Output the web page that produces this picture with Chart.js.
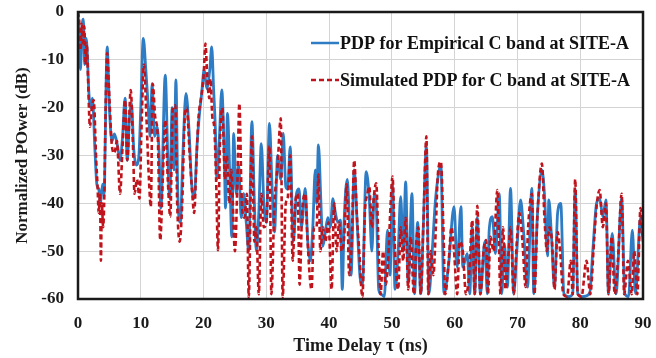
<!DOCTYPE html>
<html>
<head>
<meta charset="utf-8">
<script src="https://cdn.jsdelivr.net/npm/chart.js@4.4.1/dist/chart.umd.min.js"></script>
<style>
html,body{margin:0;padding:0;background:#fff;}
#wrap{width:656px;height:358px;position:relative;}
</style>
</head>
<body>
<div id="wrap"><canvas id="c" width="656" height="358"></canvas></div>
<script>
// ---- Data ----
const xTicks = [0,10,20,30,40,50,60,70,80,90];
const yTicks = [0,-10,-20,-30,-40,-50,-60];
const seriesNames = ["PDP for Empirical C band at SITE-A", "Simulated PDP for C band at SITE-A"];

const empX = [0,0.2,0.4,0.6,0.85,1.05,1.3,1.5,1.7,2.0,2.3,2.7,3.0,3.3,3.6,3.9,4.2,4.3,4.65,5.0,5.4,5.8,6.3,6.7,7.1,7.5,7.85,8.2,8.5,8.9,9.3,9.7,10.0,10.4,10.8,11.2,11.5,11.8,12.2,12.6,12.9,13.2,13.9,14.3,14.6,15.0,15.3,15.6,15.9,16.3,16.7,17.2,17.7,18.1,18.5,19.0,19.3,19.7,20.1,20.5,21.0,21.3,21.6,21.9,22.1,22.5,22.9,23.3,23.5,23.8,24.2,24.5,24.8,25.2,25.6,26.0,26.4,26.8,27.2,27.7,28.1,28.4,28.8,29.2,29.6,30.0,30.5,30.9,31.3,31.8,32.3,32.7,33.1,33.4,33.8,34.3,34.8,35.2,35.6,36.2,36.6,37.0,37.4,37.8,38.0,38.3,38.7,39.0,39.4,39.8,40.2,40.6,41.0,41.4,41.8,42.1,42.4,42.9,43.2,43.5,44.0,44.5,44.9,45.3,45.9,46.4,46.8,47.2,47.5,47.9,48.3,48.8,49.3,49.7,50.1,50.5,51.0,51.4,51.8,52.2,52.6,53.2,53.6,54.1,54.6,55.0,55.5,55.9,56.4,56.9,57.3,57.8,58.3,59.0,59.9,60.4,61.0,61.3,62.0,62.4,62.8,63.2,63.6,64.1,64.8,65.2,65.5,66.0,66.5,67.1,67.5,67.9,68.4,68.9,69.4,69.9,70.5,71.0,71.6,72.3,72.6,73.2,73.9,74.3,74.8,75.0,75.4,75.9,76.4,76.9,77.4,78.2,78.8,79.2,79.6,80.4,81.5,82.0,82.6,83.1,83.6,84.1,84.5,85.1,85.7,86.6,87.1,87.7,88.3,88.8,89.6,90];
const empY = [-0.3,-6,-12,-4,-1.5,-11,-5.5,-9,-16,-20,-18,-29,-36,-37,-40,-36,-38,-30,-7.3,-20,-27,-25.5,-28,-31,-26,-18,-31,-22,-19,-29,-32,-30,-20,-5.5,-12,-20,-26,-15,-26,-24,-29,-41,-13.2,-30,-39,-20,-33,-14.2,-38,-44,-30,-17,-25,-36,-39,-27,-22,-17,-12,-16,-12,-7.3,-16,-25,-35,-27,-16.3,-30,-41,-21.2,-35,-47,-25.4,-38,-32,-43,-38,-44,-50,-22.9,-40,-50,-42,-27.5,-40,-44,-23.3,-36,-46,-30,-35,-25.4,-36.5,-37,-28.2,-48,-38,-37,-45,-36.9,-48,-52,-45,-33,-40,-27.8,-40,-49,-46,-43,-45,-39,-42,-44,-43.5,-58,-43.5,-35,-43,-55,-33,-45,-55,-57,-33.4,-39,-50,-38,-40,-58,-59,-59.5,-45.6,-55,-36,-58,-50,-38.6,-50,-35.5,-56.8,-38,-58.9,-44,-58.9,-45,-28,-58.9,-50.5,-40,-35,-32,-58.9,-53.3,-40.7,-53.3,-40.7,-53.3,-50.5,-58.9,-45,-58.9,-43,-58.9,-48,-58.9,-45.6,-42.8,-50.5,-38,-58.9,-48.4,-57.5,-36.9,-58.9,-50,-39.3,-46.3,-57.5,-36.9,-58.9,-42,-33,-38,-51,-39.3,-46.3,-57.5,-42,-40,-58.9,-59.5,-58.9,-37,-58.9,-59.5,-58.9,-50,-40,-39,-42.8,-39.3,-58.9,-46.3,-58.9,-39,-58.9,-59.5,-45.6,-58.9,-43,-48];

const simX = [0,0.2,0.4,0.6,0.8,1.0,1.2,1.4,1.6,1.9,2.2,2.5,2.9,3.1,3.3,3.5,3.65,3.8,4.0,4.2,4.4,4.65,5.0,5.4,5.8,6.2,6.7,7.1,7.5,7.85,8.4,8.8,9.0,9.4,9.8,10.1,10.5,10.9,11.3,11.6,11.9,12.3,12.7,13.1,13.5,13.9,14.3,14.7,15.1,15.5,15.8,16.2,16.6,17.0,17.3,17.8,18.2,18.5,18.9,19.2,19.6,20.0,20.3,20.6,20.9,21.1,21.4,21.7,22.0,22.3,22.6,23.0,23.4,23.7,24.1,24.4,25.0,25.4,25.7,26.1,26.5,26.9,27.2,27.7,28.1,28.4,28.8,29.2,29.6,30.0,30.5,30.8,31.3,31.8,32.3,32.6,33.1,33.4,33.8,34.2,34.6,35.0,35.3,35.7,36.2,36.5,36.9,37.2,37.6,38.0,38.3,38.6,39.0,39.4,39.9,40.4,40.8,41.2,41.6,42.0,42.4,42.8,43.2,43.6,44.0,44.4,44.8,45.3,45.7,46.1,46.4,46.8,47.1,47.5,47.9,48.2,48.6,49.0,49.4,49.8,50.1,50.5,51.0,51.4,51.8,52.2,52.6,53.0,53.5,53.9,54.2,54.6,55.0,55.5,55.8,56.2,56.6,57.0,57.3,57.8,58.2,58.5,59.0,59.5,59.9,60.4,60.8,61.3,61.8,62.3,62.8,63.2,63.6,64.1,64.6,65.0,65.3,65.7,66.2,66.8,67.3,67.7,68.1,68.6,68.9,69.4,69.9,70.3,70.8,71.3,71.7,72.3,72.7,73.2,73.9,74.3,74.7,75.1,75.5,75.9,76.4,76.8,77.3,77.9,78.5,78.8,79.2,79.6,80.2,81.0,81.6,82.2,82.6,83.1,83.6,84.1,84.5,85.0,85.5,86.0,86.6,87.0,87.6,88.2,88.6,89.1,89.6,90];
const simY = [0,-2,-8,-2.5,-7,-3,-11,-6.6,-14,-24,-20,-18.4,-31,-36,-42,-38,-52,-40,-45,-38,-20,-8.6,-18,-28,-29.5,-27,-38,-28,-18.4,-31,-16.3,-30,-38,-35,-39,-25,-11,-22,-35,-40.7,-15,-22,-26,-47.7,-35,-22.6,-35,-42.8,-20,-19.5,-40,-48,-40,-22,-20,-30,-38,-42,-30,-22,-18,-13.5,-6.6,-14,-18,-14,-22,-24,-35,-49.8,-28,-20,-35,-30,-40,-33,-50,-35,-19.1,-40,-43,-38,-59.6,-26,-48,-45,-59,-38,-45,-44,-28,-59,-40,-32,-22.2,-59.6,-40,-39,-30,-52,-40,-38,-57,-42,-38,-46,-55,-58,-45,-45,-34,-50,-45,-48,-44,-58,-40,-50,-44,-50,-47,-36,-55,-48,-31,-42,-50,-59.6,-42,-38,-36.5,-45,-39,-35.8,-50,-59,-50,-57,-52,-40,-34.4,-50,-58,-45,-52,-43,-58,-47,-59,-48,-45,-59,-45,-26,-59,-50,-55,-45,-34.4,-31.3,-45,-59,-53,-45,-50,-59,-48,-50,-59,-55,-43.5,-59,-40.5,-59,-50,-47.7,-59,-47,-50,-37.2,-59,-45,-58,-50,-45,-59,-48,-42,-48,-57.5,-45,-38,-59,-42,-31.7,-43,-50,-45,-48,-58,-46,-50,-59,-59.5,-52,-59,-35,-59,-59.5,-52,-59,-48,-40.7,-37.2,-45,-40,-59,-47,-59,-52,-38,-59,-52,-59,-50,-59,-41,-47];

const empColor = "#2E7CC4";
const simColor = "#C0141C";
const FONT = "'Liberation Serif', 'DejaVu Serif', serif";

function pts(xs, ys){ return xs.map((x,i)=>({x:x, y:ys[i]})); }

const boxPlugin = {
  id:'box',
  afterDatasetsDraw(chart){
    const {ctx, chartArea:a} = chart;
    ctx.save();
    ctx.strokeStyle = '#1a1a1a';
    ctx.lineWidth = 2.5;
    ctx.strokeRect(a.left, a.top, a.right-a.left, a.bottom-a.top);
    ctx.restore();
  }
};

const legendPlugin = {
  id:'inlegend',
  afterDraw(chart){
    const ctx = chart.ctx;
    const ds = chart.data.datasets;
    const rows = [43, 80];
    ctx.save();
    ctx.font = "bold 18px " + FONT;
    ctx.textBaseline = 'middle';
    ctx.fillStyle = '#111';
    ds.forEach((d,i)=>{
      const y = rows[i];
      ctx.beginPath();
      ctx.strokeStyle = d.borderColor;
      ctx.lineWidth = 2.5;
      ctx.setLineDash(d.borderDash || []);
      ctx.moveTo(311, y); ctx.lineTo(339, y);
      ctx.stroke();
      ctx.setLineDash([]);
      ctx.fillText(d.label, 340, y+1);
    });
    ctx.restore();
  }
};

new Chart(document.getElementById('c'), {
  type:'line',
  data:{
    datasets:[
      {label:seriesNames[0], data:pts(empX, empY), borderColor:empColor, borderWidth:2.8,
       pointRadius:0, cubicInterpolationMode:'monotone', order:2},
      {label:seriesNames[1], data:pts(simX, simY), borderColor:simColor, borderWidth:2.6,
       borderDash:[5,3], pointRadius:0, cubicInterpolationMode:'monotone', order:1}
    ]
  },
  options:{
    responsive:false, animation:false, devicePixelRatio:1,
    layout:{padding:{top:12, right:13, left:0, bottom:0}},
    plugins:{legend:{display:false}, tooltip:{enabled:false}},
    scales:{
      x:{type:'linear', min:0, max:90,
         afterBuildTicks(s){ s.ticks = xTicks.map(v=>({value:v})); },
         afterFit(s){ s.height = 59; s.paddingLeft = 0; s.paddingRight = 0; },
         grid:{color:'#d4d4d4', lineWidth:1, drawTicks:false},
         border:{display:false},
         ticks:{padding:14, color:'#1a1a1a', font:{family:FONT, size:17, weight:'bold'}},
         title:{display:true, text:'Time Delay τ (ns)', color:'#1a1a1a', padding:{top:0,bottom:1},
                font:{family:FONT, size:18, weight:'bold'}}
      },
      y:{type:'linear', min:-60, max:0,
         afterBuildTicks(s){ s.ticks = yTicks.map(v=>({value:v})); },
         afterFit(s){ s.width = 78; s.paddingTop = 0; s.paddingBottom = 0; },
         grid:{color:'#d4d4d4', lineWidth:1, drawTicks:false},
         border:{display:false},
         ticks:{padding:14, color:'#1a1a1a', font:{family:FONT, size:17, weight:'bold'}},
         title:{display:true, text:'Normalized POwer (dB)', color:'#1a1a1a', padding:{top:12,bottom:0},
                font:{family:FONT, size:17, weight:'bold'}}
      }
    }
  },
  plugins:[boxPlugin, legendPlugin]
});
</script>
</body>
</html>
